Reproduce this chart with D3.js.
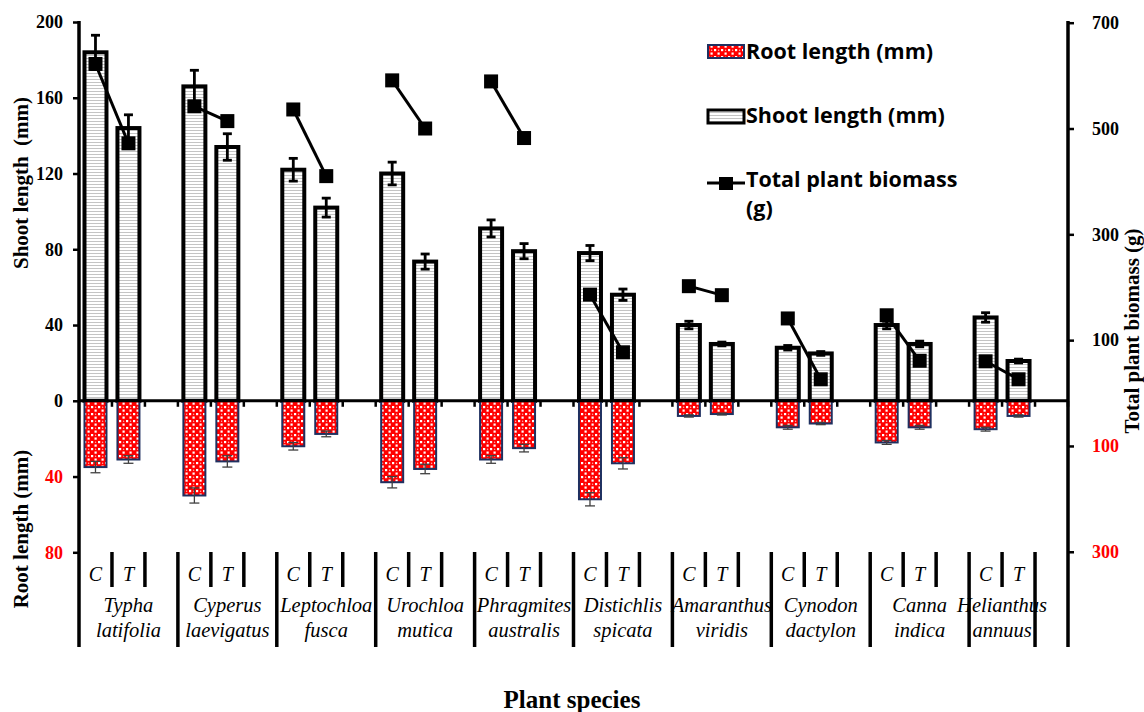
<!DOCTYPE html>
<html>
<head>
<meta charset="utf-8">
<script src="https://cdn.jsdelivr.net/npm/d3@7"></script>
<style>
  body { margin: 0; background: #fff; }
  svg { display: block; }
</style>
</head>
<body>
<div class="graph"></div>
<script>
// species (two-line labels) and treatments
var species = [
  ["Typha", "latifolia"], ["Cyperus", "laevigatus"], ["Leptochloa", "fusca"],
  ["Urochloa", "mutica"], ["Phragmites", "australis"], ["Distichlis", "spicata"],
  ["Amaranthus", "viridis"], ["Cynodon", "dactylon"], ["Canna", "indica"],
  ["Helianthus", "annuus"]
];
var treatments = ["C", "T"];

// shoot length (mm), [C, T] per species
var shootLength = [[184, 144], [166, 134], [122, 102], [120, 73.5], [91, 79],
  [78, 56], [40, 30], [28, 25], [40, 30], [44, 21]];
var shootErr = [[9, 7], [8.5, 7], [6, 5], [6, 4], [4.5, 4],
  [4, 3], [2, 1], [1.2, 1], [2, 1.5], [2.5, 1]];

// root length (mm), [C, T]
var rootLength = [[35, 31], [50, 32], [24, 17.5], [43, 36], [31, 25],
  [52, 33], [8, 7], [14, 12], [22, 14], [15, 8]];
var rootErr = [[3, 2], [4, 3], [2, 1.5], [3, 2.5], [2, 2],
  [3.5, 3], [0.6, 0.5], [1, 0.6], [1, 1], [1, 0.6]];

// total plant biomass (g), [C, T]
var biomass = [[622, 472], [542, 514], [536, 410], [591, 500], [589, 482],
  [186, 77], [202, 185], [141, 26], [147, 61], [60, 26]];

var leftTicks = [200, 160, 120, 80, 40, 0, -40, -80];
var rightTicks = [700, 500, 300, 100, -100, -300];

window.onload = () => {
  var W = 1144, H = 712;
  var left = 79, right = 1068, top = 22, bottom = 647;

  var svg = d3.select(".graph").append("svg")
    .attr("width", W)
    .attr("height", H);

  var defs = svg.append("defs");
  var pStripe = defs.append("pattern").attr("id", "stripes")
    .attr("patternUnits", "userSpaceOnUse").attr("width", 4).attr("height", 3);
  pStripe.append("rect").attr("width", 4).attr("height", 3).attr("fill", "#fff");
  pStripe.append("rect").attr("y", 1).attr("width", 4).attr("height", 1).attr("fill", "#c4c4c4");

  var pDots = defs.append("pattern").attr("id", "dots")
    .attr("patternUnits", "userSpaceOnUse").attr("width", 7).attr("height", 7);
  pDots.append("rect").attr("width", 7).attr("height", 7).attr("fill", "#ff0000");
  pDots.append("rect").attr("x", 0).attr("y", 0).attr("width", 2.2).attr("height", 2.2).attr("fill", "#fff");
  pDots.append("rect").attr("x", 3.5).attr("y", 3.5).attr("width", 2.2).attr("height", 2.2).attr("fill", "#fff");
  pDots.append("circle").attr("cx", 4.6).attr("cy", 1.3).attr("r", 0.7).attr("fill", "#ffb0b0");

  // 30 slots: C, T, blank for each species
  var slots = d3.range(30);
  var x = d3.scaleBand().domain(slots).range([left, right]).paddingInner(0).paddingOuter(0);
  var bw = 22;

  var yL = d3.scaleLinear().domain([-130, 200]).range([bottom, top]);
  var yR = d3.scaleLinear().domain([-480, 700]).range([bottom, 22.7]);

  // flatten data
  var rows = [];
  species.forEach(function (s, i) {
    treatments.forEach(function (t, j) {
      rows.push({
        i: i, j: j, slot: i * 3 + j,
        shoot: shootLength[i][j], shootE: shootErr[i][j],
        root: rootLength[i][j], rootE: rootErr[i][j],
        bio: biomass[i][j]
      });
    });
  });
  function cx(d) { return x(d.slot) + x.bandwidth() / 2; }

  // shoot bars
  svg.append("g").selectAll("rect")
    .data(rows).enter().append("rect")
    .attr("x", function (d) { return cx(d) - bw / 2; })
    .attr("y", function (d) { return yL(d.shoot); })
    .attr("width", bw)
    .attr("height", function (d) { return yL(0) - yL(d.shoot); })
    .attr("fill", "url(#stripes)")
    .attr("stroke", "#000")
    .attr("stroke-width", 4);

  // root bars
  svg.append("g").selectAll("rect")
    .data(rows).enter().append("rect")
    .attr("x", function (d) { return cx(d) - bw / 2; })
    .attr("y", yL(0))
    .attr("width", bw)
    .attr("height", function (d) { return yL(-d.root) - yL(0); })
    .attr("fill", "url(#dots)")
    .attr("stroke", "#1f3060")
    .attr("stroke-width", 2);

  // shoot error bars
  var eS = svg.append("g").attr("stroke", "#000").attr("stroke-width", 2.8);
  rows.forEach(function (d) {
    var c = cx(d);
    eS.append("line").attr("x1", c).attr("x2", c)
      .attr("y1", yL(d.shoot + d.shootE)).attr("y2", yL(d.shoot - d.shootE));
    [d.shoot + d.shootE, d.shoot - d.shootE].forEach(function (v) {
      eS.append("line").attr("x1", c - 4.5).attr("x2", c + 4.5).attr("y1", yL(v)).attr("y2", yL(v));
    });
  });

  // root error bars
  var eR = svg.append("g").attr("stroke", "#404040").attr("stroke-width", 1.3);
  rows.forEach(function (d) {
    var c = cx(d);
    eR.append("line").attr("x1", c).attr("x2", c)
      .attr("y1", yL(-d.root + d.rootE)).attr("y2", yL(-d.root - d.rootE));
    [-d.root + d.rootE, -d.root - d.rootE].forEach(function (v) {
      eR.append("line").attr("x1", c - 5).attr("x2", c + 5).attr("y1", yL(v)).attr("y2", yL(v));
    });
  });

  // zero line with slot ticks
  svg.append("line").attr("x1", left).attr("x2", right)
    .attr("y1", yL(0)).attr("y2", yL(0))
    .attr("stroke", "#000").attr("stroke-width", 3);
  svg.append("g").selectAll("line")
    .data(d3.range(1, 31)).enter().append("line")
    .attr("x1", function (k) { return left + k * x.step(); })
    .attr("x2", function (k) { return left + k * x.step(); })
    .attr("y1", yL(0)).attr("y2", yL(0) + 6)
    .attr("stroke", "#000").attr("stroke-width", 2.5);

  // biomass lines and markers
  var line = d3.line()
    .x(function (d) { return cx(d); })
    .y(function (d) { return yR(d.bio); });
  species.forEach(function (s, i) {
    var pair = rows.filter(function (d) { return d.i === i; });
    svg.append("path").datum(pair)
      .attr("d", line)
      .attr("fill", "none")
      .attr("stroke", "#000")
      .attr("stroke-width", 3);
  });
  svg.append("g").selectAll("rect")
    .data(rows).enter().append("rect")
    .attr("x", function (d) { return cx(d) - 7; })
    .attr("y", function (d) { return yR(d.bio) - 7; })
    .attr("width", 14).attr("height", 14)
    .attr("fill", "#000");

  var serif = "'Liberation Serif', 'Times New Roman', serif";

  // left axis
  var axL = svg.append("g").attr("transform", "translate(" + left + ",0)")
    .call(d3.axisLeft(yL).tickValues(leftTicks).tickSize(6).tickSizeOuter(0)
      .tickFormat(function (d) { return Math.abs(d); }));
  axL.select(".domain").remove();
  axL.selectAll(".tick line").attr("stroke", "#000").attr("stroke-width", 2.5);
  axL.selectAll(".tick text")
    .attr("x", -16)
    .style("font-family", serif)
    .style("font-weight", "bold")
    .style("font-size", "18px")
    .attr("fill", function (d) { return d < 0 ? "#ff0000" : "#000"; });
  svg.append("line").attr("x1", left).attr("x2", left).attr("y1", top - 1).attr("y2", bottom)
    .attr("stroke", "#000").attr("stroke-width", 3.5);

  // right axis
  var axR = svg.append("g").attr("transform", "translate(" + right + ",0)")
    .call(d3.axisRight(yR).tickValues(rightTicks).tickSize(6).tickSizeOuter(0)
      .tickFormat(function (d) { return Math.abs(d); }));
  axR.select(".domain").remove();
  axR.selectAll(".tick line").attr("stroke", "#000").attr("stroke-width", 2.5);
  axR.selectAll(".tick text")
    .attr("x", 24)
    .style("font-family", serif)
    .style("font-weight", "bold")
    .style("font-size", "18px")
    .attr("fill", function (d) { return d < 0 ? "#ff0000" : "#000"; });
  svg.append("line").attr("x1", right).attr("x2", right).attr("y1", top - 1).attr("y2", bottom)
    .attr("stroke", "#000").attr("stroke-width", 3.5);

  // category labels (C / T and species)
  var cat = svg.append("g");
  rows.forEach(function (d) {
    cat.append("text")
      .attr("x", cx(d)).attr("y", 581)
      .attr("text-anchor", "middle")
      .style("font-family", serif).style("font-style", "italic").style("font-size", "20px")
      .text(treatments[d.j]);
  });
  species.forEach(function (s, i) {
    var x0 = left + i * 3 * x.step();
    var x1 = left + (i * 3 + 2) * x.step();
    var xEnd = i === species.length - 1 ? x1 : x1 + x.step();
    // short separators after C and T
    [1, 2].forEach(function (k) {
      if (i === species.length - 1 && k === 2) return;
      cat.append("line")
        .attr("x1", left + (i * 3 + k) * x.step()).attr("x2", left + (i * 3 + k) * x.step())
        .attr("y1", 552).attr("y2", 587)
        .attr("stroke", "#000").attr("stroke-width", 3.5);
    });
    // long separator at group end
    cat.append("line")
      .attr("x1", xEnd).attr("x2", xEnd)
      .attr("y1", 552).attr("y2", bottom)
      .attr("stroke", "#000").attr("stroke-width", 3.5);
    var mid = (x0 + xEnd) / 2;
    cat.append("text").attr("x", mid).attr("y", 612)
      .attr("text-anchor", "middle")
      .style("font-family", serif).style("font-style", "italic").style("font-size", "20.5px")
      .text(s[0]);
    cat.append("text").attr("x", mid).attr("y", 637)
      .attr("text-anchor", "middle")
      .style("font-family", serif).style("font-style", "italic").style("font-size", "20.5px")
      .text(s[1]);
  });

  // axis titles
  svg.append("text")
    .attr("transform", "translate(28,183) rotate(-90)")
    .attr("text-anchor", "middle")
    .style("font-family", serif).style("font-weight", "bold").style("font-size", "21px")
    .attr("xml:space", "preserve")
    .text("Shoot length  (mm)");
  svg.append("text")
    .attr("transform", "translate(28,529) rotate(-90)")
    .attr("text-anchor", "middle")
    .style("font-family", serif).style("font-weight", "bold").style("font-size", "21px")
    .text("Root length (mm)");
  svg.append("text")
    .attr("transform", "translate(1139,331) rotate(-90)")
    .attr("text-anchor", "middle")
    .style("font-family", serif).style("font-weight", "bold").style("font-size", "21px")
    .text("Total plant biomass (g)");
  svg.append("text")
    .attr("x", 572).attr("y", 708)
    .attr("text-anchor", "middle")
    .style("font-family", serif).style("font-weight", "bold").style("font-size", "25px")
    .text("Plant species");

  // legend
  var lg = svg.append("g");
  var lgFont = "'Open Sans', 'Noto Sans', sans-serif";
  lg.append("rect").attr("x", 708).attr("y", 45).attr("width", 36).attr("height", 13)
    .attr("fill", "url(#dots)").attr("stroke", "#1f3060").attr("stroke-width", 2);
  lg.append("rect").attr("x", 708).attr("y", 110).attr("width", 36).attr("height", 13)
    .attr("fill", "url(#stripes)").attr("stroke", "#000").attr("stroke-width", 3);
  lg.append("line").attr("x1", 707).attr("x2", 745).attr("y1", 183).attr("y2", 183)
    .attr("stroke", "#000").attr("stroke-width", 3);
  lg.append("rect").attr("x", 719).attr("y", 177).attr("width", 14).attr("height", 13).attr("fill", "#000");
  [["Root length (mm)", 59], ["Shoot length (mm)", 123], ["Total plant biomass", 187], ["(g)", 216]]
    .forEach(function (t) {
      lg.append("text").attr("x", 746).attr("y", t[1])
        .style("font-family", lgFont).style("font-weight", "bold").style("font-size", "21.5px")
        .text(t[0]);
    });
};
</script>
</body>
</html>
